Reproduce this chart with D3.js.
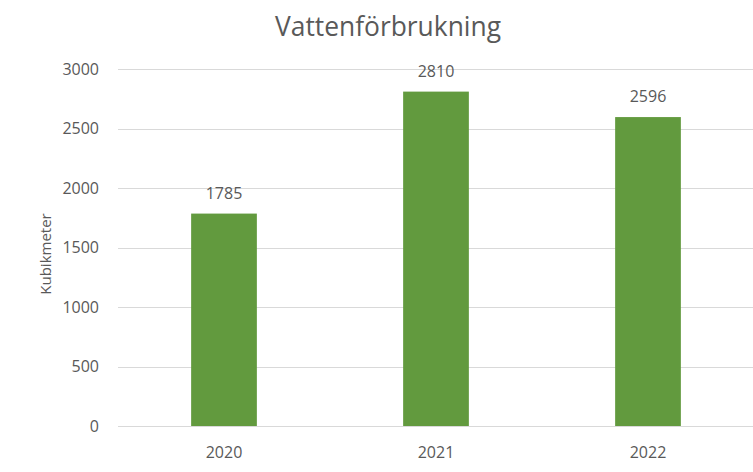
<!DOCTYPE html>
<html>
<head>
<meta charset="utf-8">
<script src="https://cdn.jsdelivr.net/npm/d3@7"></script>
<style>
  body { margin: 0; background: #fff; }
  text { font-family: "Open Sans", sans-serif; fill: #595959; }
</style>
</head>
<body>
<svg id="chart" width="753" height="472"></svg>
<script>
const years = ["2020", "2021", "2022"];
const values = [1785, 2810, 2596];
const yTicks = [0, 500, 1000, 1500, 2000, 2500, 3000];

const svg = d3.select("#chart");
const plotLeft = 118, plotRight = 754, plotTop = 69, plotBottom = 426;

const x = d3.scaleBand()
  .domain(years)
  .range([plotLeft, plotRight])
  .paddingInner(0.69)
  .paddingOuter(0.345);

const y = d3.scaleLinear().domain([0, 3000]).range([plotBottom, plotTop]);

// gridlines
svg.append("g")
  .selectAll("line")
  .data(yTicks)
  .enter()
  .append("line")
  .attr("x1", plotLeft)
  .attr("x2", 753)
  .attr("y1", d => Math.round(y(d)) + 0.5)
  .attr("y2", d => Math.round(y(d)) + 0.5)
  .attr("stroke", "#d9d9d9")
  .attr("stroke-width", 1);

// y tick labels
svg.append("g")
  .selectAll("text")
  .data(yTicks)
  .enter()
  .append("text")
  .attr("x", 99)
  .attr("y", d => y(d))
  .attr("dy", "0.35em")
  .attr("text-anchor", "end")
  .attr("font-size", 16)
  .text(d => d);

// bars
svg.append("g")
  .selectAll("rect")
  .data(values)
  .enter()
  .append("rect")
  .attr("x", (d, i) => x(years[i]))
  .attr("y", d => y(d))
  .attr("width", x.bandwidth())
  .attr("height", d => plotBottom - y(d))
  .attr("fill", "#629a3e");

// data labels
svg.append("g")
  .selectAll("text")
  .data(values)
  .enter()
  .append("text")
  .attr("x", (d, i) => x(years[i]) + x.bandwidth() / 2)
  .attr("y", d => y(d) - 15)
  .attr("text-anchor", "middle")
  .attr("font-size", 16)
  .text(d => d);

// x labels
svg.append("g")
  .selectAll("text")
  .data(years)
  .enter()
  .append("text")
  .attr("x", d => x(d) + x.bandwidth() / 2)
  .attr("y", 458)
  .attr("text-anchor", "middle")
  .attr("font-size", 16)
  .text(d => d);

// title
svg.append("text")
  .attr("x", 388)
  .attr("y", 36)
  .attr("text-anchor", "middle")
  .attr("font-size", 28)
  .attr("textLength", 226)
  .attr("lengthAdjust", "spacingAndGlyphs")
  .text("Vattenförbrukning");

// y axis title
svg.append("text")
  .attr("transform", "translate(51,254) rotate(-90)")
  .attr("text-anchor", "middle")
  .attr("font-size", 15)
  .text("Kubikmeter");
</script>
</body>
</html>
